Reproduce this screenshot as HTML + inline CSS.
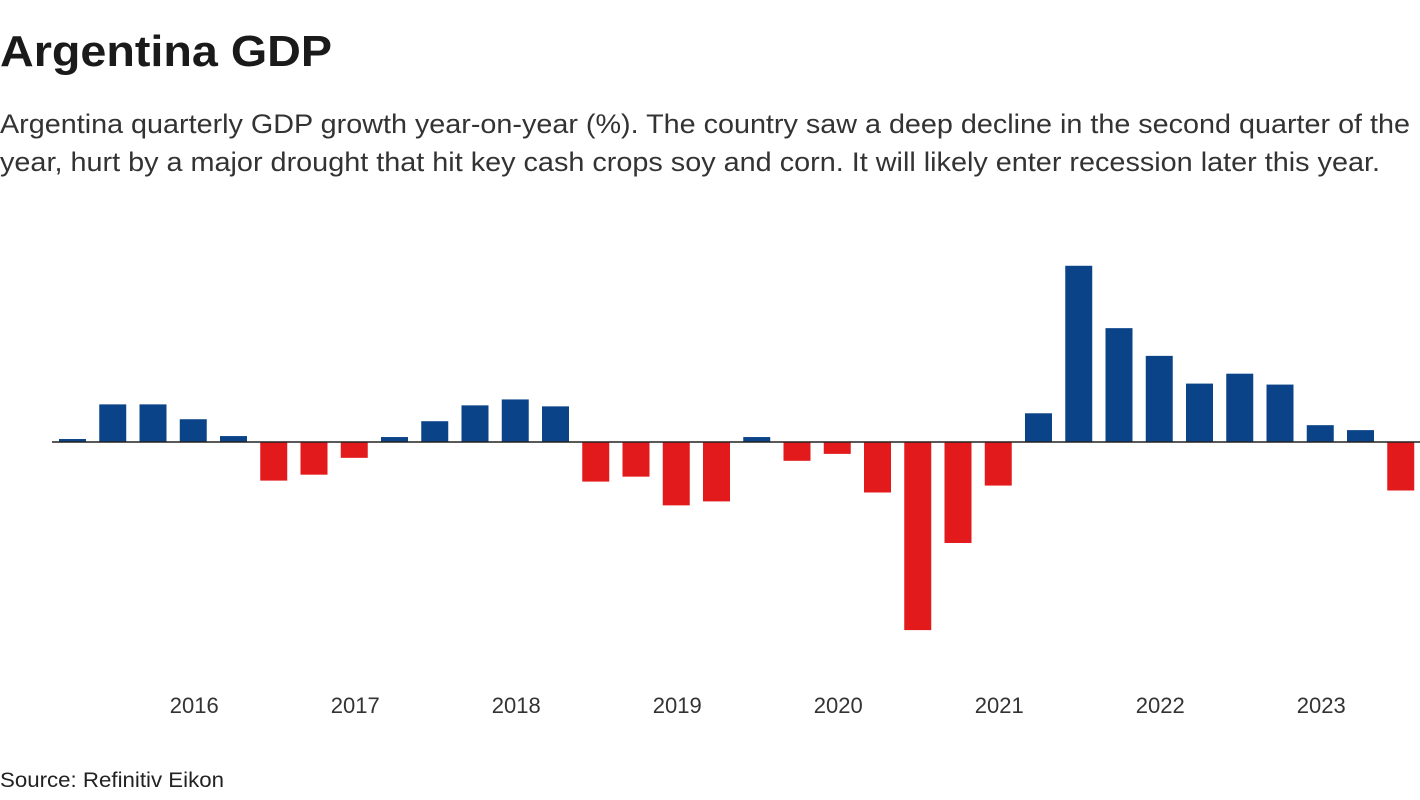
<!DOCTYPE html>
<html><head><meta charset="utf-8"><style>
html,body{margin:0;padding:0;background:#fff;}
svg{display:block;font-family:"Liberation Sans",sans-serif;}
</style></head><body>
<svg id="chart" width="1420" height="800" viewBox="0 0 1420 800">
<text x="0" y="66" font-size="44" font-weight="bold" fill="#1a1a1a" textLength="332" lengthAdjust="spacingAndGlyphs">Argentina GDP</text>
<text x="0" y="133" font-size="27" fill="#333" textLength="1410" lengthAdjust="spacingAndGlyphs">Argentina quarterly GDP growth year-on-year (%). The country saw a deep decline in the second quarter of the</text>
<text x="0" y="171" font-size="27" fill="#333" textLength="1380" lengthAdjust="spacingAndGlyphs">year, hurt by a major drought that hit key cash crops soy and corn. It will likely enter recession later this year.</text>
<g id="bars"></g>
<line x1="52" x2="1420" y1="442" y2="442" stroke="#222" stroke-width="1.5"/>
<g id="xlabels"></g>
<text x="0" y="787" font-size="21" fill="#222" textLength="224" lengthAdjust="spacingAndGlyphs">Source: Refinitiv Eikon</text>
</svg>
<script>
const values = [0.3,3.8,3.8,2.3,0.6,-3.9,-3.3,-1.6,0.5,2.1,3.7,4.3,3.6,-4.0,-3.5,-6.4,-6.0,0.5,-1.9,-1.2,-5.1,-19.0,-10.2,-4.4,2.9,17.8,11.5,8.7,5.9,6.9,5.8,1.7,1.2,-4.9];
const yearLabels = ["2016","2017","2018","2019","2020","2021","2022","2023"];
const yearLabelIndex = [3,7,11,15,19,23,27,31];
const NS="http://www.w3.org/2000/svg";
const x0=59, step=40.25, bw=27, zeroY=442, pxPer=9.9;
const xPos = i => x0 + i*step;
const yPos = v => zeroY - v*pxPer;
const bars=document.getElementById('bars');
values.forEach((v,i)=>{
  const r=document.createElementNS(NS,'rect');
  r.setAttribute('x',xPos(i));
  r.setAttribute('width',bw);
  r.setAttribute('y',Math.min(yPos(v),zeroY));
  r.setAttribute('height',Math.abs(yPos(v)-zeroY));
  r.setAttribute('fill',v>=0?'#0a4388':'#e31a1c');
  
  
  bars.appendChild(r);
});
const xl=document.getElementById('xlabels');
yearLabels.forEach((l,k)=>{
  const t=document.createElementNS(NS,'text');
  t.setAttribute('x',xPos(yearLabelIndex[k])+bw/2+1);
  t.setAttribute('y',713);
  t.setAttribute('text-anchor','middle');
  t.setAttribute('font-size','22');
  t.setAttribute('fill','#333');
  t.textContent=l;
  
  
  xl.appendChild(t);
});
</script>
</body></html>
